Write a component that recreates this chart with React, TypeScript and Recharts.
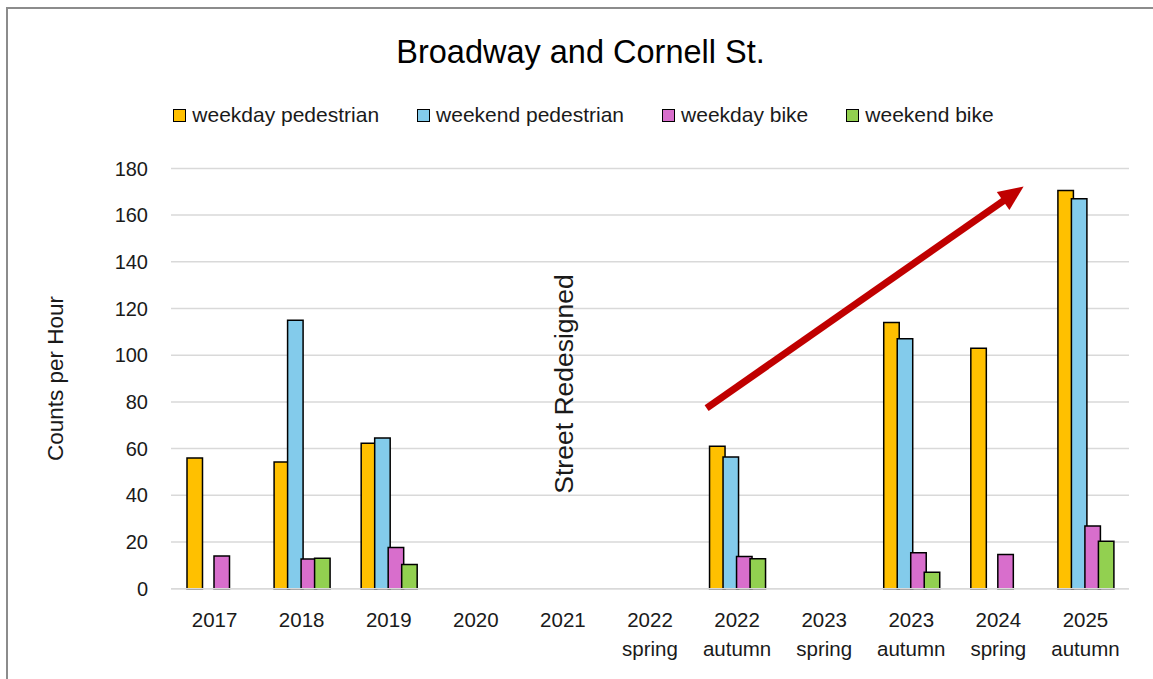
import {
  Bar,
  BarChart,
  CartesianGrid,
  Legend,
  ReferenceDot,
  ReferenceLine,
  XAxis,
  YAxis,
} from 'recharts'

const FONT = '"Liberation Sans", Arial, sans-serif'
const INK = '#1a1a1a'

const PERIODS = [
  '2017',
  '2018',
  '2019',
  '2020',
  '2021',
  '2022 spring',
  '2022 autumn',
  '2023 spring',
  '2023 autumn',
  '2024 spring',
  '2025 autumn',
]
const WEEKDAY_PED = [56, 54.3, 62.3, null, null, null, 61, null, 114, 103, 170.5]
const WEEKEND_PED = [null, 115, 64.5, null, null, null, 56.4, null, 107, null, 167]
const WEEKDAY_BIKE = [14, 12.7, 17.6, null, null, null, 13.8, null, 15.4, 14.6, 26.8]
const WEEKEND_BIKE = [null, 13, 10.4, null, null, null, 12.8, null, 7, null, 20.3]
const Y_TICKS = [0, 20, 40, 60, 80, 100, 120, 140, 160, 180]

const SERIES = [
  { key: 'weekdayPed', name: 'weekday pedestrian', color: '#FFC000' },
  { key: 'weekendPed', name: 'weekend pedestrian', color: '#83CBEB' },
  { key: 'weekdayBike', name: 'weekday bike', color: '#D86ECC' },
  { key: 'weekendBike', name: 'weekend bike', color: '#92D050' },
]

// annotation anchors, in (period index, counts) units: 0 = centre of 2017, 10 = centre of 2025 autumn
const ARROW_FROM = { x: 5.65, y: 77.3 }
const ARROW_TO = { x: 9.29, y: 172.2 }
const NOTE = { x: 4.01, y: 87.7, text: 'Street Redesigned' }

const LEGEND_H = 24
const PLOT_W = 1145 - 163 - 24
const HALF_BAND = PLOT_W / PERIODS.length / 2

const data = PERIODS.map((period, i) => ({
  period,
  weekdayPed: WEEKDAY_PED[i],
  weekendPed: WEEKEND_PED[i],
  weekdayBike: WEEKDAY_BIKE[i],
  weekendBike: WEEKEND_BIKE[i],
}))

function PeriodTick({ x, y, payload }: { x: number; y: number; payload: { value: string } }) {
  const lines = String(payload.value).split(' ')
  return (
    <text textAnchor="middle" fontSize={20.5} fill={INK} fontFamily={FONT}>
      {lines.map((line, i) => (
        <tspan key={i} x={x} y={y + 38 + i * 29}>
          {line}
        </tspan>
      ))}
    </text>
  )
}

function YTitle({ viewBox }: { viewBox?: { x: number; y: number; width: number; height: number } }) {
  if (!viewBox) return null
  const cx = viewBox.x + 48
  const cy = viewBox.y + viewBox.height / 2
  return (
    <text
      x={cx}
      y={cy}
      transform={`rotate(-90 ${cx} ${cy})`}
      textAnchor="middle"
      dominantBaseline="central"
      fontSize={22.5}
      fill={INK}
      fontFamily={FONT}
    >
      Counts per Hour
    </text>
  )
}

function TrendArrow(props: { x1: number; y1: number; x2: number; y2: number }) {
  const { x1, y1, x2, y2 } = props
  const len = Math.hypot(x2 - x1, y2 - y1)
  const ux = (x2 - x1) / len
  const uy = (y2 - y1) / len
  const head = 25
  const half = 11
  const bx = x2 - ux * head
  const by = y2 - uy * head
  return (
    <g>
      <line x1={x1} y1={y1} x2={bx + ux * 2} y2={by + uy * 2} stroke="#C00000" strokeWidth={7} />
      <polygon
        points={`${x2},${y2} ${bx - uy * half},${by + ux * half} ${bx + uy * half},${by - ux * half}`}
        fill="#C00000"
      />
    </g>
  )
}

function NoteText(props: { cx: number; cy: number }) {
  const { cx, cy } = props
  return (
    <text
      x={cx}
      y={cy}
      transform={`rotate(-90 ${cx} ${cy})`}
      textAnchor="middle"
      dominantBaseline="central"
      fontSize={26.5}
      fill={INK}
      fontFamily={FONT}
    >
      {NOTE.text}
    </text>
  )
}

function LegendRow() {
  return (
    <div
      style={{
        display: 'flex',
        justifyContent: 'center',
        gap: 38,
        fontFamily: FONT,
        fontSize: 21,
        color: INK,
        paddingLeft: 6,
        height: LEGEND_H,
      }}
    >
      {SERIES.map((s) => (
        <div key={s.key} style={{ display: 'flex', alignItems: 'center', gap: 6 }}>
          <span
            style={{
              width: 11,
              height: 11,
              background: s.color,
              border: '1.5px solid #000',
              display: 'inline-block',
            }}
          />
          <span>{s.name}</span>
        </div>
      ))}
    </div>
  )
}

export default function App() {
  return (
    <div
      style={{
        position: 'fixed',
        left: 6,
        top: 7,
        width: 1160,
        height: 690,
        borderLeft: '2px solid #8c8c8c',
        borderTop: '2px solid #8c8c8c',
        background: '#fff',
        overflow: 'hidden',
      }}
    >
      <div
        style={{
          position: 'absolute',
          left: 0,
          top: 23,
          width: 1145,
          textAlign: 'center',
          fontFamily: FONT,
          fontSize: 32.5,
          color: '#000',
          lineHeight: '40px',
        }}
      >
        Broadway and Cornell St.
      </div>
      <BarChart
        width={1145}
        height={670}
        data={data}
        margin={{ top: 159.4 - LEGEND_H, right: 24, bottom: 30.3, left: 0 }}
        barSize={15.5}
        barGap={-2}
      >
        <CartesianGrid vertical={false} stroke="#d9d9d9" strokeWidth={1.5} />
        <XAxis
          dataKey="period"
          height={60}
          interval={0}
          tickLine={false}
          tickSize={0}
          tickMargin={0}
          axisLine={{ stroke: '#d9d9d9', strokeWidth: 1.5 }}
          tick={PeriodTick}
        />
        <XAxis
          xAxisId="pos"
          type="number"
          domain={[0, PERIODS.length - 1]}
          padding={{ left: HALF_BAND, right: HALF_BAND }}
          allowDataOverflow
          hide
        />
        <YAxis
          width={163}
          domain={[0, 180]}
          ticks={Y_TICKS}
          interval={0}
          axisLine={false}
          tickLine={false}
          tickSize={0}
          tickMargin={23}
          tick={{ fill: INK, fontSize: 20, fontFamily: FONT }}
          label={<YTitle />}
        />
        <Legend
          verticalAlign="top"
          content={<LegendRow />}
          wrapperStyle={{ top: 94, left: 0, width: 1145, height: LEGEND_H }}
        />
        {SERIES.map((s) => (
          <Bar
            key={s.key}
            dataKey={s.key}
            name={s.name}
            fill={s.color}
            stroke="#000"
            strokeWidth={1.5}
            isAnimationActive={false}
          />
        ))}
        <ReferenceLine
          xAxisId="pos"
          segment={[ARROW_FROM, ARROW_TO]}
          stroke="#C00000"
          shape={TrendArrow}
        />
        <ReferenceDot xAxisId="pos" x={NOTE.x} y={NOTE.y} r={0} shape={NoteText} />
      </BarChart>
    </div>
  )
}
